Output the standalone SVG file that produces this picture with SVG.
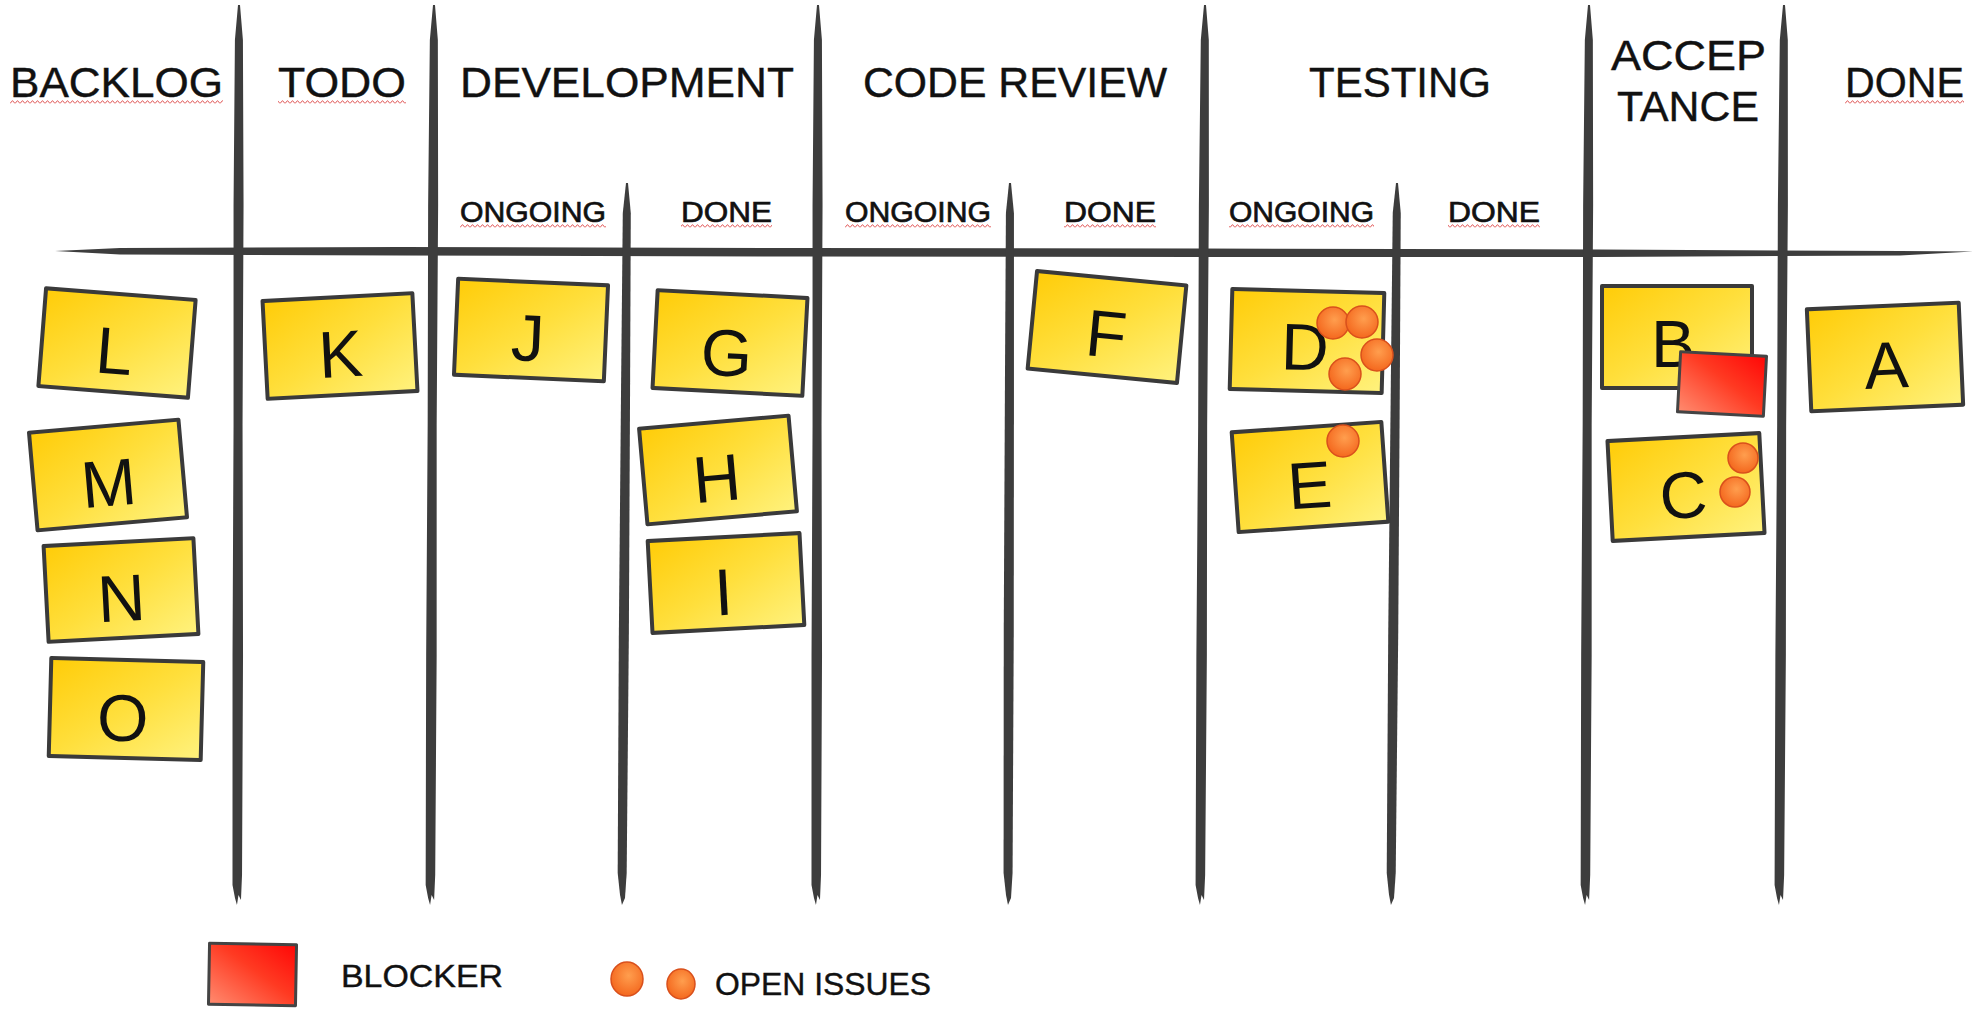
<svg xmlns="http://www.w3.org/2000/svg" width="1977" height="1009" viewBox="0 0 1977 1009">
<defs>
  <linearGradient id="yellow" x1="0" y1="0" x2="1" y2="1">
    <stop offset="0" stop-color="#FFCC08"/>
    <stop offset="0.5" stop-color="#FFDF3C"/>
    <stop offset="1" stop-color="#FFF27E"/>
  </linearGradient>
  <linearGradient id="red" x1="0" y1="1" x2="1" y2="0">
    <stop offset="0" stop-color="#FF8C70"/>
    <stop offset="0.55" stop-color="#FF3A22"/>
    <stop offset="1" stop-color="#FF0606"/>
  </linearGradient>
  <radialGradient id="orange" cx="0.55" cy="0.4" r="0.6">
    <stop offset="0" stop-color="#FF9E4E"/>
    <stop offset="1" stop-color="#F4681E"/>
  </radialGradient>
  <pattern id="squig" width="5" height="4" patternUnits="userSpaceOnUse">
    <path d="M0,3.5 L2.5,0.6 L5,3.5" fill="none" stroke="#E05555" stroke-width="1"/>
  </pattern>
  <path id="vline" d="M-1,0 L1,0 L4,35 L5,200 L4.5,420 L5.5,650 L5,870 L4,895 L1.5,890 L0,900 L-2,893 L-4.5,880 L-5,650 L-4.5,420 L-5,200 L-4,35 Z"/>
  <path id="sline" d="M-1,0 L1,0 L4,30 L4.5,200 L5,450 L4.5,690 L3,715 L0,722 L-2,712 L-4.5,690 L-5,450 L-4.5,200 L-4,30 Z"/>
</defs>
<style>
  .ink { fill: #3d3d3d; }
  .note { fill: url(#yellow); stroke: #3a3a3a; stroke-width: 4; stroke-linejoin: round; }
  .blocker { fill: url(#red); stroke: #444; stroke-width: 3; stroke-linejoin: round; }
  .issue { fill: url(#orange); stroke: #D9501C; stroke-width: 1.5; }
  .letter { font-family: "Liberation Sans", "DejaVu Sans", sans-serif; font-size: 66px; fill: #111; text-anchor: middle; }
  .hdr { font-family: "Liberation Sans", "DejaVu Sans", sans-serif; font-size: 42px; fill: #111; stroke: #111; stroke-width: 0.4; }
  .sub { font-family: "Liberation Sans", "DejaVu Sans", sans-serif; font-size: 30px; fill: #111; stroke: #111; stroke-width: 0.7; }
  .leg { font-family: "Liberation Sans", "DejaVu Sans", sans-serif; font-size: 32px; fill: #111; stroke: #111; stroke-width: 0.4; }
  .sq { fill: url(#squig); }
</style>
<rect width="1977" height="1009" fill="#ffffff"/>

<g id="board-lines" class="ink">
  <path d="M55,251 L120,248 L400,247 L800,248 L1200,248.5 L1600,249.5 L1900,251 L1973,251.5 L1900,255.5 L1600,257 L1200,257 L800,256.5 L400,255.5 L120,254.5 Z"/>
  <use href="#vline" transform="translate(239,5) rotate(0.13)"/>
  <use href="#vline" transform="translate(434,5) rotate(0.25)"/>
  <use href="#vline" transform="translate(818,5) rotate(0.13)"/>
  <use href="#vline" transform="translate(1205,5) rotate(0.32)"/>
  <use href="#vline" transform="translate(1589,5) rotate(0.25)"/>
  <use href="#vline" transform="translate(1784,5) rotate(0.32)"/>
  <use href="#sline" transform="translate(627,183) rotate(0.4)"/>
  <use href="#sline" transform="translate(1010,183) rotate(0.16)"/>
  <use href="#sline" transform="translate(1397,183) rotate(0.48)"/>
</g>

<g id="headers">
  <g id="h-backlog"><text class="hdr" x="10" y="97" textLength="213" lengthAdjust="spacingAndGlyphs">BACKLOG</text><rect class="sq" x="10" y="100" width="213" height="4"/></g>
  <g id="h-todo"><text class="hdr" x="278" y="97" textLength="128" lengthAdjust="spacingAndGlyphs">TODO</text><rect class="sq" x="278" y="100" width="128" height="4"/></g>
  <g id="h-development"><text class="hdr" x="460" y="97" textLength="334" lengthAdjust="spacingAndGlyphs">DEVELOPMENT</text></g>
  <g id="h-codereview"><text class="hdr" x="863" y="97" textLength="304" lengthAdjust="spacingAndGlyphs">CODE REVIEW</text></g>
  <g id="h-testing"><text class="hdr" x="1309" y="97" textLength="182" lengthAdjust="spacingAndGlyphs">TESTING</text></g>
  <g id="h-acceptance"><text class="hdr" x="1611" y="70" textLength="155" lengthAdjust="spacingAndGlyphs">ACCEP</text><text class="hdr" x="1617" y="121" textLength="142" lengthAdjust="spacingAndGlyphs">TANCE</text></g>
  <g id="h-done"><text class="hdr" x="1845" y="97" textLength="119" lengthAdjust="spacingAndGlyphs">DONE</text><rect class="sq" x="1845" y="100" width="119" height="4"/></g>
  <g id="s-dev-ongoing"><text class="sub" x="460" y="222" textLength="146" lengthAdjust="spacingAndGlyphs">ONGOING</text><rect class="sq" x="460" y="224" width="146" height="4"/></g>
  <g id="s-dev-done"><text class="sub" x="681" y="222" textLength="91" lengthAdjust="spacingAndGlyphs">DONE</text><rect class="sq" x="681" y="224" width="91" height="4"/></g>
  <g id="s-cr-ongoing"><text class="sub" x="845" y="222" textLength="146" lengthAdjust="spacingAndGlyphs">ONGOING</text><rect class="sq" x="845" y="224" width="146" height="4"/></g>
  <g id="s-cr-done"><text class="sub" x="1064" y="222" textLength="92" lengthAdjust="spacingAndGlyphs">DONE</text><rect class="sq" x="1064" y="224" width="92" height="4"/></g>
  <g id="s-test-ongoing"><text class="sub" x="1229" y="222" textLength="145" lengthAdjust="spacingAndGlyphs">ONGOING</text><rect class="sq" x="1229" y="224" width="145" height="4"/></g>
  <g id="s-test-done"><text class="sub" x="1448" y="222" textLength="92" lengthAdjust="spacingAndGlyphs">DONE</text><rect class="sq" x="1448" y="224" width="92" height="4"/></g>
</g>

<g id="note-L" transform="translate(117,343) rotate(4.5)"><rect class="note" x="-75" y="-49" width="150" height="98"/><text class="letter" x="-2" y="31">L</text></g>
<g id="note-M" transform="translate(108,475) rotate(-5)"><rect class="note" x="-75" y="-49" width="150" height="98"/><text class="letter" x="0" y="31">M</text></g>
<g id="note-N" transform="translate(121,590) rotate(-3)"><rect class="note" x="-75" y="-48" width="150" height="96"/><text class="letter" x="0" y="31">N</text></g>
<g id="note-O" transform="translate(126,709) rotate(1.5)"><rect class="note" x="-76" y="-49" width="152" height="98"/><text class="letter" x="-3" y="32">O</text></g>
<g id="note-K" transform="translate(340,346) rotate(-3)"><rect class="note" x="-75" y="-49" width="150" height="98"/><text class="letter" x="0" y="31">K</text></g>
<g id="note-J" transform="translate(531,330) rotate(2.5)"><rect class="note" x="-75" y="-48" width="150" height="96"/><text class="letter" x="-3" y="31">J</text></g>
<g id="note-G" transform="translate(730,343) rotate(3)"><rect class="note" x="-75" y="-49" width="150" height="98"/><text class="letter" x="-3" y="33">G</text></g>
<g id="note-H" transform="translate(718,470) rotate(-5)"><rect class="note" x="-75" y="-48" width="150" height="96"/><text class="letter" x="-2" y="31">H</text></g>
<g id="note-I" transform="translate(726,583) rotate(-3)"><rect class="note" x="-76" y="-46" width="152" height="92"/><text class="letter" x="-3" y="32">I</text></g>
<g id="note-F" transform="translate(1107,327) rotate(5.5)"><rect class="note" x="-75" y="-49" width="150" height="98"/><text class="letter" x="0" y="30">F</text></g>
<g id="note-D" transform="translate(1307,341) rotate(1.5)"><rect class="note" x="-76" y="-50" width="152" height="100"/><text class="letter" x="-2" y="29">D</text></g>
<g id="note-E" transform="translate(1310,477) rotate(-4)"><rect class="note" x="-75" y="-50" width="150" height="100"/><text class="letter" x="-1" y="31">E</text></g>
<g id="note-B" transform="translate(1677,337)"><rect class="note" x="-75" y="-51" width="150" height="102"/><text class="letter" x="-4" y="30">B</text></g>
<g id="note-C" transform="translate(1686,487) rotate(-3)"><rect class="note" x="-76" y="-50" width="152" height="100"/><text class="letter" x="-3" y="31">C</text></g>
<g id="note-A" transform="translate(1885,357) rotate(-2.5)"><rect class="note" x="-76" y="-51" width="152" height="102"/><text class="letter" x="1" y="31">A</text></g>

<g id="issues-D">
  <circle class="issue" cx="1333" cy="323" r="16"/>
  <circle class="issue" cx="1362" cy="322" r="16"/>
  <circle class="issue" cx="1377" cy="355" r="16"/>
  <circle class="issue" cx="1345" cy="374" r="16"/>
</g>
<g id="issues-E"><circle class="issue" cx="1343" cy="441" r="16"/></g>
<g id="issues-C">
  <circle class="issue" cx="1743" cy="458" r="15"/>
  <circle class="issue" cx="1735" cy="492" r="15"/>
</g>
<g id="blocker-B" transform="translate(1722,384) rotate(3)"><rect class="blocker" x="-43" y="-30" width="86" height="60"/></g>

<g id="legend-blocker">
  <rect class="blocker" x="209" y="944" width="87" height="61" transform="rotate(1 252 975)"/>
  <text class="leg" x="341" y="987" textLength="162" lengthAdjust="spacingAndGlyphs">BLOCKER</text>
</g>
<g id="legend-issues">
  <ellipse class="issue" cx="627" cy="979" rx="16" ry="17"/>
  <ellipse class="issue" cx="681" cy="984" rx="14" ry="15"/>
  <text class="leg" x="715" y="995" textLength="216" lengthAdjust="spacingAndGlyphs">OPEN ISSUES</text>
</g>
</svg>
